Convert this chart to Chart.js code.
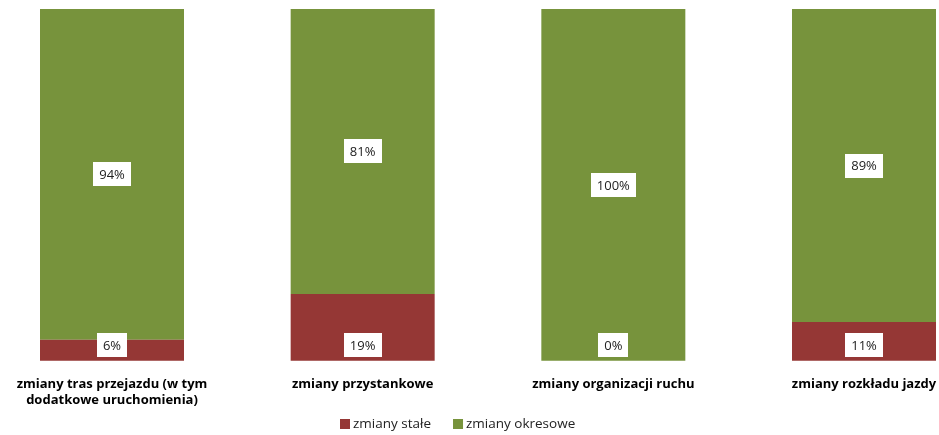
<!DOCTYPE html>
<html>
<head>
<meta charset="utf-8">
<script src="https://cdn.jsdelivr.net/npm/chart.js@4"></script>
<style>
  html, body { margin: 0; padding: 0; background: #fff; }
  #wrap { width: 939px; height: 435px; }
</style>
</head>
<body>
<div id="wrap"><canvas id="chart" width="939" height="435"></canvas></div>
<script>
// categories (multi-line where the original wraps)
const categories = [
  ['zmiany tras przejazdu (w tym', 'dodatkowe uruchomienia)'],
  'zmiany przystankowe',
  'zmiany organizacji ruchu',
  'zmiany rozkładu jazdy'
];
// shares in percent
const stale = [6, 19, 0, 11];
const okresowe = [94, 81, 100, 89];

const FONT = '"Open Sans", "Liberation Sans", sans-serif';

// white boxed percentage labels, like the excel data labels
const boxLabels = {
  id: 'boxLabels',
  afterDatasetsDraw(chart) {
    const ctx = chart.ctx;
    ctx.save();
    ctx.font = '13px ' + FONT;
    ctx.textAlign = 'center';
    ctx.textBaseline = 'middle';
    chart.data.datasets.forEach((ds, di) => {
      const meta = chart.getDatasetMeta(di);
      meta.data.forEach((bar, i) => {
        const txt = ds.data[i] + '%';
        let y;
        if (di === 0) {
          // inside base
          y = bar.base - 16;
        } else {
          y = (bar.y + bar.base) / 2;
        }
        const w = ctx.measureText(txt).width + 12;
        const h = 24;
        ctx.fillStyle = '#fff';
        ctx.fillRect(Math.round(bar.x - w / 2), Math.round(y - h / 2), Math.round(w), h);
        ctx.fillStyle = '#222';
        ctx.fillText(txt, bar.x, y + 1);
      });
    });
    ctx.restore();
  }
};

// legend drawn by hand so the gap between entries matches excel
const bottomLegend = {
  id: 'bottomLegend',
  afterDraw(chart) {
    const ctx = chart.ctx;
    ctx.save();
    ctx.font = '13.5px ' + FONT;
    ctx.textBaseline = 'middle';
    const box = 10, gapText = 3, gapItem = 22;
    const items = chart.data.datasets.map(ds => ({
      text: ds.label, color: ds.backgroundColor, w: ctx.measureText(ds.label).width
    }));
    const total = items.reduce((s, it) => s + box + gapText + it.w, 0) + gapItem * (items.length - 1);
    let x = Math.round(chart.width / 2 - 12 - total / 2);
    const y = chart.height - 11;
    items.forEach(it => {
      ctx.fillStyle = it.color;
      ctx.fillRect(x, y - box / 2, box, box);
      ctx.fillStyle = '#222';
      ctx.fillText(it.text, x + box + gapText, y);
      x += box + gapText + it.w + gapItem;
    });
    ctx.restore();
  }
};

new Chart(document.getElementById('chart'), {
  type: 'bar',
  data: {
    labels: categories,
    datasets: [
      {
        label: 'zmiany stałe',
        data: stale,
        backgroundColor: '#953735',
        barThickness: 144,
        inflateAmount: 0,
        clip: false
      },
      {
        label: 'zmiany okresowe',
        data: okresowe,
        backgroundColor: '#77933C',
        barThickness: 144,
        inflateAmount: 0,
        clip: false
      }
    ]
  },
  options: {
    responsive: false,
    animation: false,
    layout: {
      padding: { left: 112, right: 75, top: 9, bottom: 19 }
    },
    scales: {
      x: {
        stacked: true,
        offset: false,
        grid: { display: false },
        border: { display: false },
        afterFit(scale) {
          // keep the edge labels from pushing the plot inward
          scale.paddingLeft = 0;
          scale.paddingRight = 0;
        },
        ticks: {
          color: '#000',
          font: { family: FONT, size: 13, weight: 'bold' },
          maxRotation: 0,
          autoSkip: false,
          padding: 8
        }
      },
      y: {
        stacked: true,
        display: false,
        min: 0,
        max: 100
      }
    },
    plugins: {
      legend: { display: false },
      tooltip: { enabled: false }
    }
  },
  plugins: [boxLabels, bottomLegend]
});
</script>
</body>
</html>
